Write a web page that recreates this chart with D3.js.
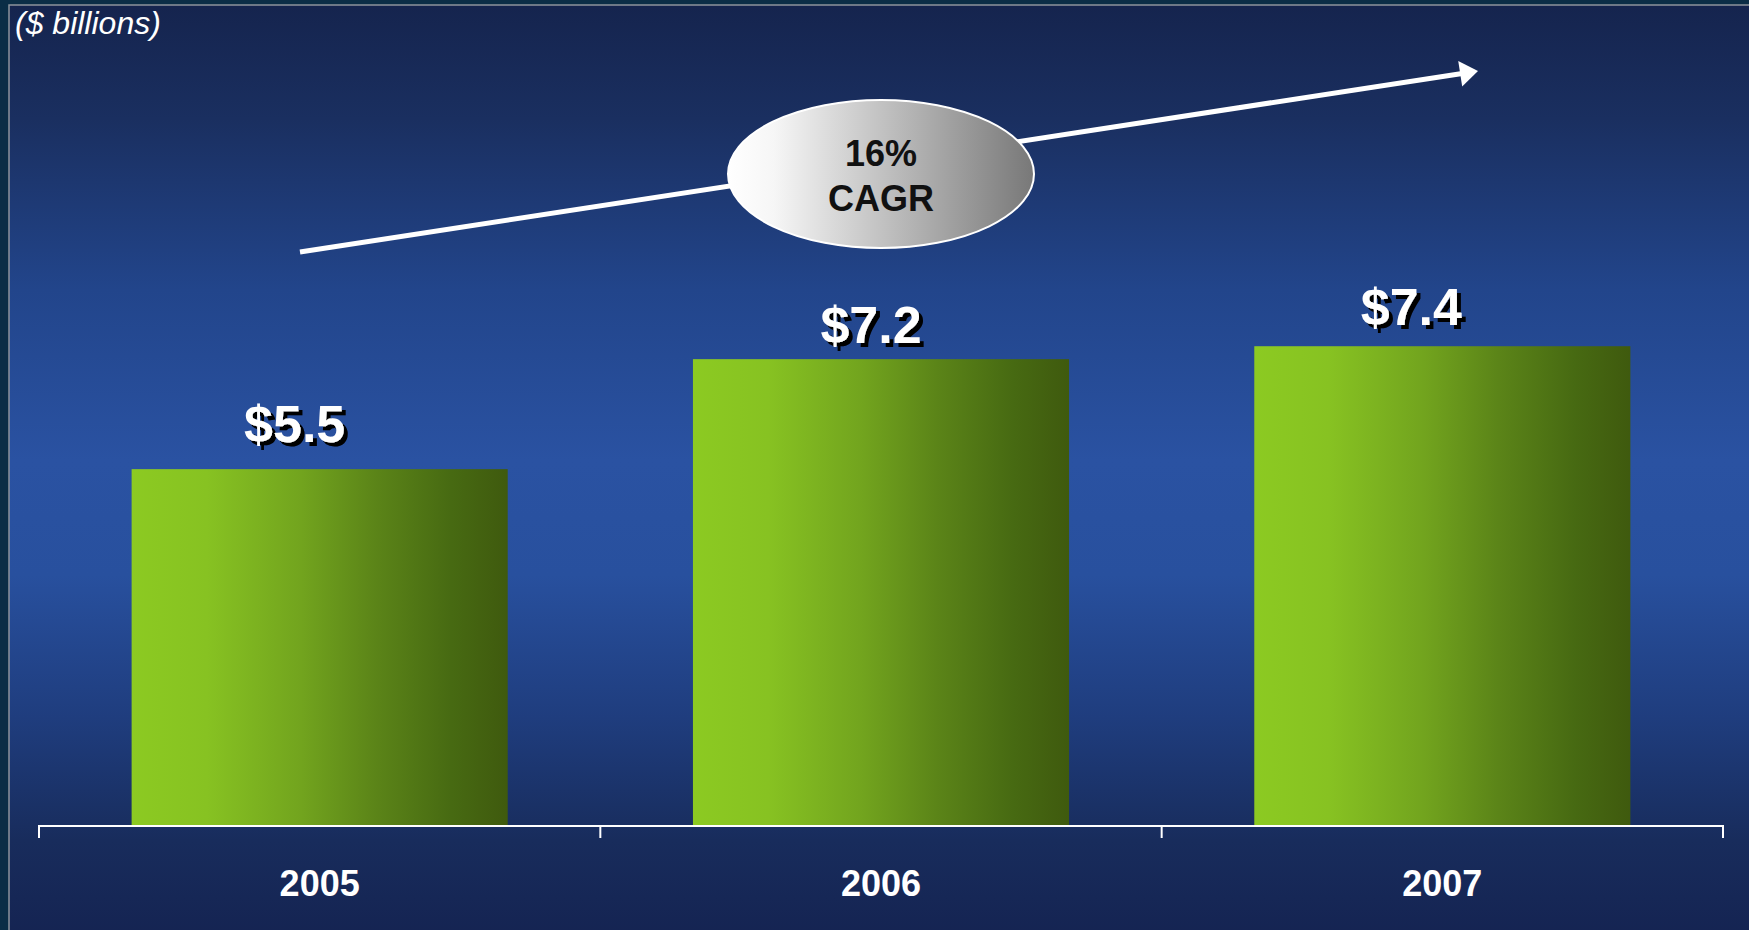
<!DOCTYPE html>
<html>
<head>
<meta charset="utf-8">
<script src="https://cdn.jsdelivr.net/npm/d3@7/dist/d3.min.js"></script>
<style>
  html, body { margin: 0; padding: 0; background: #0b2d46; }
  svg { display: block; }
  text { font-family: "Liberation Sans", Arial, Helvetica, sans-serif; }
</style>
</head>
<body>
<svg id="chart" width="1749" height="930"></svg>
<script>
// Revenue by year, $ billions
const years = ["2005", "2006", "2007"];
const revenue = [5.5, 7.2, 7.4];
const valueLabels = ["$5.5", "$7.2", "$7.4"];
const unitNote = "($ billions)";
const cagrText = ["16%", "CAGR"];

// Per-label placement tweaks relative to the top centre of each bar [dx, dy]
const labelNudge = [[-25, -27], [-10, -16], [-31, -21.5]];

const W = 1749, H = 930;
const svg = d3.select("#chart");
const defs = svg.append("defs");

// Backdrop gradient: dark navy top and bottom, brighter blue in the middle
const bg = defs.append("linearGradient").attr("id", "bgGrad")
  .attr("x1", 0).attr("y1", 0).attr("x2", 0).attr("y2", 1);
[[0, "#15244e"], [0.12, "#1a2f60"], [0.3, "#22458b"], [0.48, "#2a52a2"],
 [0.6, "#28509e"], [0.75, "#1f3d7e"], [0.88, "#182c5c"], [1, "#142250"]]
  .forEach(([o, c]) => bg.append("stop").attr("offset", o).attr("stop-color", c));

// Bar gradient: bright lime on the left fading to dark olive on the right
const barGrad = defs.append("linearGradient").attr("id", "barGrad")
  .attr("x1", 0).attr("y1", 0).attr("x2", 1).attr("y2", 0);
[[0, "#8cca22"], [0.2, "#87c222"], [0.45, "#72a41e"], [0.65, "#5b8418"],
 [0.85, "#476a12"], [1, "#3f5a0e"]]
  .forEach(([o, c]) => barGrad.append("stop").attr("offset", o).attr("stop-color", c));

// Bubble gradient: white to mid grey
const bubGrad = defs.append("linearGradient").attr("id", "bubGrad")
  .attr("x1", 0).attr("y1", 0).attr("x2", 1).attr("y2", 0);
[[0, "#ffffff"], [0.15, "#f6f6f6"], [1, "#787878"]]
  .forEach(([o, c]) => bubGrad.append("stop").attr("offset", o).attr("stop-color", c));

// Hard black drop shadow for the value labels
const shadow = defs.append("filter").attr("id", "hardShadow")
  .attr("x", "-10%").attr("y", "-10%").attr("width", "130%").attr("height", "140%");
shadow.append("feFlood").attr("flood-color", "#000000").attr("result", "black");
shadow.append("feComposite").attr("in", "black").attr("in2", "SourceAlpha")
  .attr("operator", "in").attr("result", "mask");
shadow.append("feOffset").attr("in", "mask").attr("dx", 4).attr("dy", 4).attr("result", "off");
const merge = shadow.append("feMerge");
merge.append("feMergeNode").attr("in", "off");
merge.append("feMergeNode").attr("in", "SourceGraphic");

// Frame
svg.append("rect").attr("x", 0).attr("y", 0).attr("width", W).attr("height", H)
  .attr("fill", "#0b2d46");
svg.append("rect").attr("x", 9).attr("y", 5).attr("width", W + 20).attr("height", H + 20)
  .attr("fill", "url(#bgGrad)").attr("stroke", "#8d939c").attr("stroke-width", 1.5);

// Scales
const x = d3.scaleBand().domain(years).range([39, 1723])
  .paddingInner(0.33).paddingOuter(0.165);
const y = d3.scaleLinear().domain([0, 8]).range([825, 307.4]);

// Bars
svg.append("g").selectAll("rect").data(revenue).join("rect")
  .attr("x", (d, i) => x(years[i]))
  .attr("y", d => y(d))
  .attr("width", x.bandwidth())
  .attr("height", d => y(0) - y(d))
  .attr("fill", "url(#barGrad)");

// Category axis: baseline with ticks on the band boundaries
const axis = svg.append("g");
const step = x.step();
const edges = years.map(d => x(d) - step * x.paddingInner() / 2);
edges.push(edges[edges.length - 1] + step);
axis.append("line")
  .attr("x1", edges[0]).attr("x2", edges[edges.length - 1])
  .attr("y1", y(0) + 1).attr("y2", y(0) + 1)
  .attr("stroke", "#ffffff").attr("stroke-width", 2);
axis.selectAll("line.tick").data(edges).join("line").attr("class", "tick")
  .attr("x1", d => d).attr("x2", d => d)
  .attr("y1", y(0)).attr("y2", y(0) + 13)
  .attr("stroke", "#ffffff").attr("stroke-width", 2);
axis.selectAll("text").data(years).join("text")
  .attr("x", d => x(d) + x.bandwidth() / 2)
  .attr("y", 896)
  .attr("text-anchor", "middle")
  .attr("fill", "#ffffff")
  .attr("font-weight", "bold")
  .attr("font-size", 36)
  .text(d => d);

// Value labels with a drop shadow
svg.append("g").selectAll("text").data(revenue).join("text")
  .attr("x", (d, i) => x(years[i]) + x.bandwidth() / 2 + labelNudge[i][0])
  .attr("y", (d, i) => y(d) + labelNudge[i][1])
  .attr("text-anchor", "middle").attr("font-weight", "bold").attr("font-size", 52)
  .attr("fill", "#ffffff").attr("filter", "url(#hardShadow)")
  .text((d, i) => valueLabels[i]);

// Growth arrow
const a0 = [300, 252], a1 = [1478, 71];
const ang = Math.atan2(a1[1] - a0[1], a1[0] - a0[0]);
const headLen = 18, headHalf = 13;
const bx = a1[0] - headLen * Math.cos(ang), by = a1[1] - headLen * Math.sin(ang);
svg.append("line")
  .attr("x1", a0[0]).attr("y1", a0[1]).attr("x2", bx + 2 * Math.cos(ang)).attr("y2", by + 2 * Math.sin(ang))
  .attr("stroke", "#ffffff").attr("stroke-width", 5);
svg.append("path")
  .attr("d", `M${a1[0]},${a1[1]} L${bx - headHalf * Math.sin(ang)},${by + headHalf * Math.cos(ang)} L${bx + headHalf * Math.sin(ang)},${by - headHalf * Math.cos(ang)} Z`)
  .attr("fill", "#ffffff");

// CAGR bubble
svg.append("ellipse")
  .attr("cx", 881).attr("cy", 174).attr("rx", 153).attr("ry", 74)
  .attr("fill", "url(#bubGrad)").attr("stroke", "#ffffff").attr("stroke-width", 2);
svg.append("g").selectAll("text").data(cagrText).join("text")
  .attr("x", 881).attr("y", (d, i) => 166 + i * 45)
  .attr("text-anchor", "middle").attr("font-weight", "bold").attr("font-size", 36)
  .attr("fill", "#111111").text(d => d);

// Unit note
svg.append("text").attr("x", 15).attr("y", 34)
  .attr("font-style", "italic").attr("font-size", 32).attr("fill", "#ffffff")
  .text(unitNote);
</script>
</body>
</html>
